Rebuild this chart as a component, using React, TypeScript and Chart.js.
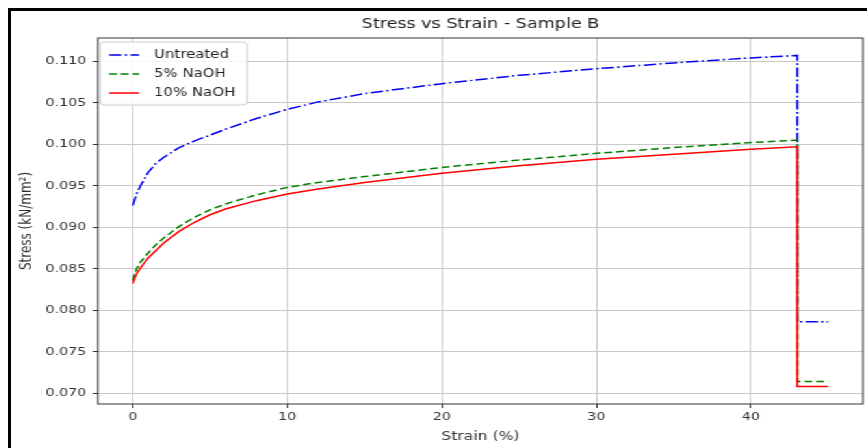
import React, { useEffect, useRef } from "react";
import { Chart, registerables } from "chart.js";

Chart.register(...registerables);

const TITLE = "Stress vs Strain - Sample B";
const X_LABEL = "Strain (%)";
const Y_LABEL = "Stress (kN/mm²)";
const seriesNames = ["Untreated", "5% NaOH", "10% NaOH"];

const strain = [0, 0.25, 0.5, 1, 1.5, 2, 3, 4, 5, 6, 8, 10, 12, 15, 20, 25, 30, 35, 40, 43, 43, 45];
const untreated = [0.0926, 0.094, 0.095, 0.0966, 0.0977, 0.0984, 0.0996, 0.1004, 0.1011, 0.1018, 0.1031, 0.1042, 0.1051, 0.1061, 0.1073, 0.1083, 0.1091, 0.1098, 0.1104, 0.1107, 0.0786, 0.0786];
const naoh5 = [0.0836, 0.085, 0.0858, 0.0869, 0.0879, 0.0887, 0.0901, 0.0912, 0.0921, 0.0928, 0.0939, 0.0948, 0.0954, 0.0961, 0.0972, 0.0981, 0.0989, 0.0996, 0.1002, 0.1005, 0.0714, 0.0714];
const naoh10 = [0.0832, 0.0844, 0.0851, 0.0863, 0.0872, 0.0881, 0.0895, 0.0906, 0.0915, 0.0922, 0.0932, 0.094, 0.0946, 0.0954, 0.0965, 0.0974, 0.0982, 0.0988, 0.0994, 0.0997, 0.0708, 0.0708];

const xTicks = [0, 10, 20, 30, 40];
const yTicks = [0.07, 0.075, 0.08, 0.085, 0.09, 0.095, 0.1, 0.105, 0.11];
const xRange = [-2.25, 47.25];
const yRange = [0.0687, 0.1128];

const FONT = "DejaVu Sans";
const W = 658;
const H = 438;
const STRETCH = 1.3;

const framePlugin = {
  id: "frame",
  afterDatasetsDraw(chart: any) {
    const { ctx, chartArea: a } = chart;
    ctx.save();
    ctx.strokeStyle = "#333";
    ctx.lineWidth = 1;
    ctx.strokeRect(a.left, a.top, a.right - a.left, a.bottom - a.top);
    ctx.restore();
  },
};

const legendPlugin = {
  id: "boxLegend",
  afterDatasetsDraw(chart: any) {
    const { ctx, chartArea: a } = chart;
    const x0 = a.left + 1.6;
    const y0 = a.top + 4;
    const w = 113;
    const h = 63;
    const r = 3;
    ctx.save();
    ctx.beginPath();
    ctx.moveTo(x0 + r, y0);
    ctx.lineTo(x0 + w - r, y0);
    ctx.quadraticCurveTo(x0 + w, y0, x0 + w, y0 + r);
    ctx.lineTo(x0 + w, y0 + h - r);
    ctx.quadraticCurveTo(x0 + w, y0 + h, x0 + w - r, y0 + h);
    ctx.lineTo(x0 + r, y0 + h);
    ctx.quadraticCurveTo(x0, y0 + h, x0, y0 + h - r);
    ctx.lineTo(x0, y0 + r);
    ctx.quadraticCurveTo(x0, y0, x0 + r, y0);
    ctx.closePath();
    ctx.fillStyle = "rgba(255,255,255,0.85)";
    ctx.fill();
    ctx.strokeStyle = "#cccccc";
    ctx.lineWidth = 1;
    ctx.stroke();
    chart.data.datasets.forEach((ds: any, i: number) => {
      const y = y0 + 13 + i * 19;
      ctx.setLineDash(ds.borderDash || []);
      ctx.strokeStyle = ds.borderColor;
      ctx.lineWidth = ds.borderWidth;
      ctx.beginPath();
      ctx.moveTo(x0 + 7, y);
      ctx.lineTo(x0 + 30, y);
      ctx.stroke();
      ctx.setLineDash([]);
      ctx.fillStyle = "#222";
      ctx.font = `11.5px "${FONT}"`;
      ctx.textBaseline = "middle";
      ctx.textAlign = "left";
      ctx.fillText(ds.label, x0 + 41.5, y);
    });
    ctx.restore();
  },
};

export default function App() {
  const ref = useRef<HTMLCanvasElement>(null);

  useEffect(() => {
    const canvas = ref.current;
    if (!canvas) return;
    const pts = (ys: number[]) => strain.map((x, i) => ({ x, y: ys[i] }));
    const chart = new Chart(canvas, {
      type: "line",
      data: {
        datasets: [
          {
            label: seriesNames[0],
            data: pts(untreated),
            borderColor: "#0000ee",
            borderWidth: 1.5,
            borderDash: [9.5, 2.5, 1.8, 2.5],
            pointRadius: 0,
            tension: 0,
            fill: false,
            order: 2,
          },
          {
            label: seriesNames[1],
            data: pts(naoh5),
            borderColor: "#008000",
            borderWidth: 1.5,
            borderDash: [6, 3],
            pointRadius: 0,
            tension: 0,
            fill: false,
            order: 1,
          },
          {
            label: seriesNames[2],
            data: pts(naoh10),
            borderColor: "#ff0000",
            borderWidth: 1.5,
            pointRadius: 0,
            tension: 0,
            fill: false,
            order: 0,
          },
        ],
      },
      options: {
        responsive: false,
        animation: false,
        devicePixelRatio: 1,
        layout: { padding: { left: 0, right: 1.85, top: 0, bottom: 0 } },
        plugins: {
          legend: { display: false },
          tooltip: { enabled: false },
          title: {
            display: true,
            text: TITLE,
            fullSize: false,
            color: "#222",
            font: { family: FONT, size: 13.5, weight: "normal" },
            padding: { top: 6, bottom: 5.8 },
          },
        },
        scales: {
          x: {
            type: "linear",
            min: xRange[0],
            max: xRange[1],
            afterBuildTicks: (s: any) => {
              s.ticks = xTicks.map((v) => ({ value: v }));
            },
            afterFit: (s: any) => {
              s.height = 44;
            },
            grid: { color: "#c8c8c8", lineWidth: 1, tickColor: "#333", tickLength: 4, drawTicks: true },
            border: { display: false },
            ticks: {
              color: "#333",
              font: { family: FONT, size: 11 },
              padding: 3,
              maxRotation: 0,
              autoSkip: false,
              callback: (v: any) => String(v),
            },
            title: {
              display: true,
              text: X_LABEL,
              color: "#333",
              font: { family: FONT, size: 12 },
              padding: { top: 0, bottom: 4 },
            },
          },
          y: {
            type: "linear",
            min: yRange[0],
            max: yRange[1],
            afterBuildTicks: (s: any) => {
              s.ticks = yTicks.map((v) => ({ value: v }));
            },
            afterFit: (s: any) => {
              s.width = 67.7;
            },
            grid: { color: "#c8c8c8", lineWidth: 1, tickColor: "#333", tickLength: 4, drawTicks: true },
            border: { display: false },
            ticks: {
              color: "#333",
              font: { family: FONT, size: 11 },
              padding: 5,
              autoSkip: false,
              callback: (v: any) => Number(v).toFixed(3),
            },
            title: {
              display: true,
              text: Y_LABEL,
              color: "#333",
              font: { family: FONT, size: 12 },
              padding: { top: 5.5, bottom: 0 },
            },
          },
        },
      },
      plugins: [framePlugin, legendPlugin],
    } as any);
    return () => chart.destroy();
  }, []);

  return (
    <>
      <div
        style={{
          position: "fixed",
          left: 10,
          top: 10,
          width: W,
          height: H,
          transform: `scaleX(${STRETCH})`,
          transformOrigin: "0 0",
          background: "#fff",
        }}
      >
        <canvas ref={ref} width={W} height={H} style={{ width: W, height: H, display: "block" }} />
      </div>
      <div
        style={{
          position: "fixed",
          left: 8,
          top: 8,
          width: 859,
          height: 440,
          boxSizing: "border-box",
          borderTop: "3px solid #000",
          borderLeft: "3px solid #000",
          pointerEvents: "none",
        }}
      />
    </>
  );
}
